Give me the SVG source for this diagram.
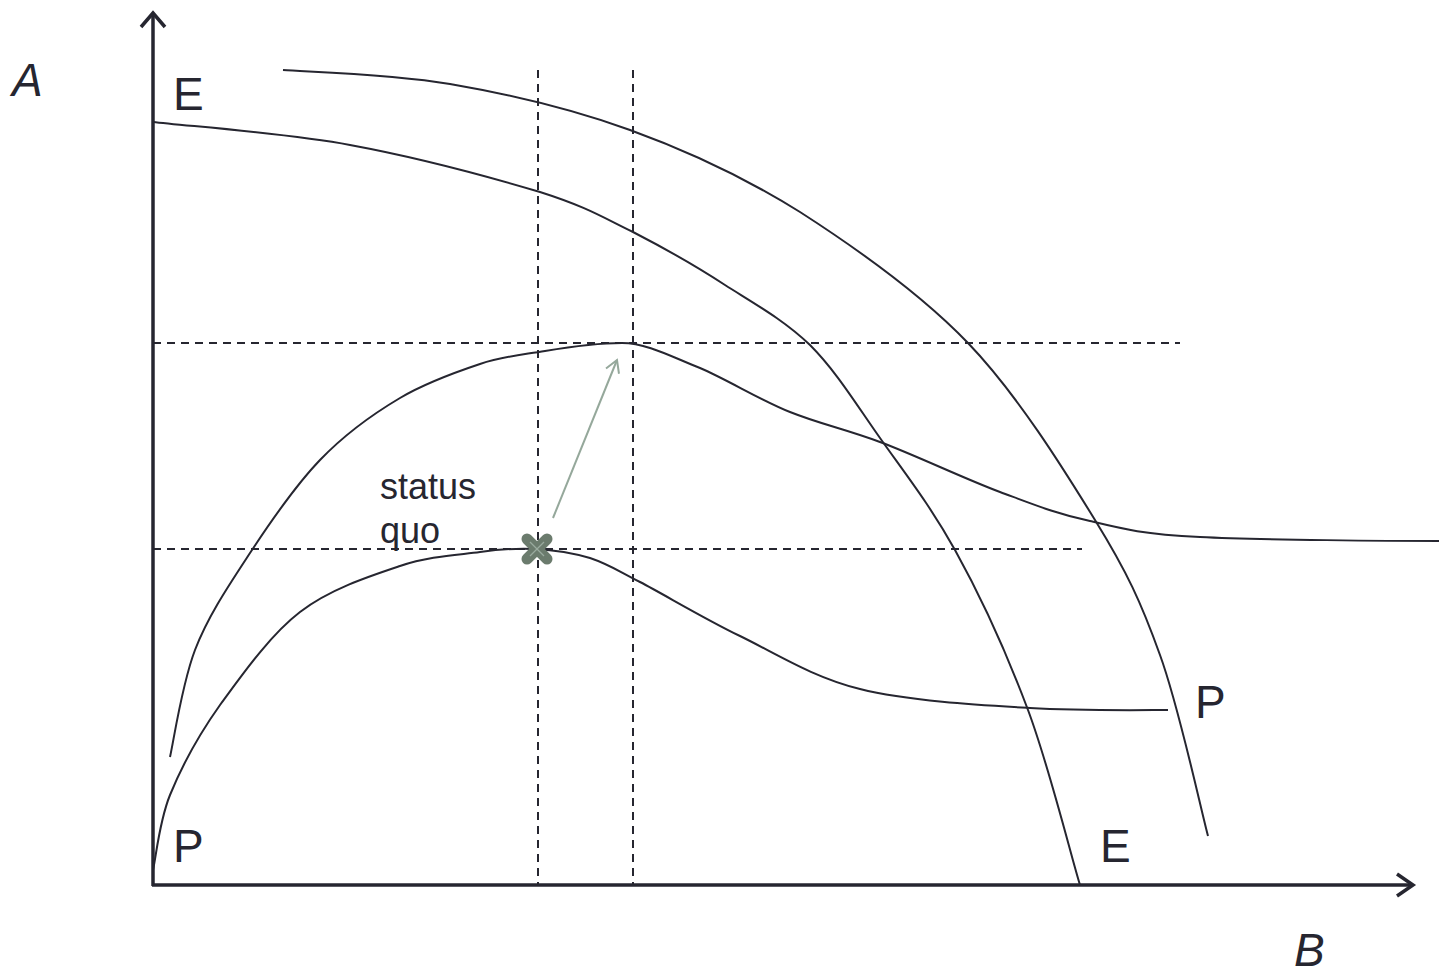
<svg xmlns="http://www.w3.org/2000/svg" width="1439" height="977" viewBox="0 0 1439 977">
<style>
.curve{fill:none;stroke:#262630;stroke-width:2}
.dash{fill:none;stroke:#262630;stroke-width:2;stroke-dasharray:8 6}
.axis{fill:none;stroke:#262630;stroke-width:3.5}
.lbl{font-family:"Liberation Sans",Arial,sans-serif;font-size:46px;fill:#262630}
.ital{font-style:italic}
.sq{font-family:"Liberation Sans",Arial,sans-serif;font-size:36px;fill:#262630}
</style>
<defs>
<marker id="ah" markerWidth="20" markerHeight="20" refX="14" refY="8" orient="auto" markerUnits="userSpaceOnUse">
<path d="M2,1 L14,8 L2,15" fill="none" stroke="#95a89b" stroke-width="2"/>
</marker>
</defs>
<rect width="1439" height="977" fill="#ffffff"/>
<g id="guides">
<line class="dash" x1="153" y1="343" x2="1180" y2="343"/>
<line class="dash" x1="153" y1="549" x2="1082" y2="549"/>
<line class="dash" x1="538" y1="70" x2="538" y2="885"/>
<line class="dash" x1="633" y1="70" x2="633" y2="885"/>
</g>
<g id="curve-E-outer">
<path class="curve" d="M283,70 C311,72 392,74 450,84 C508,94 572,109 630,130 C688,151 744,177 800,212 C856,248 919,292 968,343 C1017,394 1063,468 1095,520 C1127,572 1141,602 1160,655 C1179,707 1200,806 1208,836"/>
</g>
<g id="curve-E-inner">
<path class="curve" d="M153,122 C186,126 286,133 350,145 C415,157 493,178 540,192 C587,207 602,217 633,232 C664,248 696,266 725,285 C755,304 784,320 810,345 C836,371 856,404 880,438 C904,472 930,505 955,550 C980,595 1007,654 1028,710 C1049,766 1071,856 1080,885"/>
</g>
<g id="curve-P-upper">
<path class="curve" d="M170,757 C174,739 182,684 195,650 C208,616 229,585 250,553 C271,521 295,486 320,460 C345,434 373,414 400,398 C427,382 456,372 480,364 C504,356 521,355 545,351 C569,347 597,343 622,343 C647,343 672,357 700,368 C728,380 760,400 790,412 C820,424 845,429 880,442 C915,455 965,479 1000,492 C1035,505 1057,514 1090,521 C1123,529 1142,534 1200,537 C1258,540 1399,541 1439,541"/>
</g>
<g id="curve-P-lower">
<path class="curve" d="M153,870 C156,858 159,822 170,795 C181,768 198,736 220,705 C242,675 270,635 300,612 C330,589 370,576 400,566 C430,556 458,555 480,552 C502,549 517,548 535,549 C553,550 573,553 590,558 C608,564 615,569 640,582 C665,595 703,618 740,636 C777,654 812,677 860,689 C908,701 979,705 1030,708 C1081,711 1145,710 1168,710"/>
</g>
<g id="axes">
<line class="axis" x1="153" y1="886" x2="153" y2="14"/>
<path class="axis" d="M141,27 L153,13 L165,27"/>
<line class="axis" x1="152" y1="885" x2="1412" y2="885"/>
<path class="axis" d="M1397,874 L1413,885 L1397,896"/>
</g>
<g id="connectors">
<line x1="553" y1="518" x2="617" y2="360" stroke="#95a89b" stroke-width="2" marker-end="url(#ah)"/>
</g>
<g id="status-quo">
<g stroke="#6b7b6d" stroke-width="11" stroke-linecap="round">
<line x1="527" y1="539" x2="547" y2="559"/>
<line x1="547" y1="539" x2="527" y2="559"/>
</g>
<g stroke="#9aaa9e" stroke-width="1.2">
<line x1="530" y1="542" x2="544" y2="556"/>
<line x1="544" y1="542" x2="530" y2="556"/>
</g>
<text class="sq" x="380" y="499">status</text>
<text class="sq" x="380" y="543">quo</text>
</g>
<g id="labels">
<text class="lbl ital" x="12" y="96">A</text>
<text class="lbl ital" x="1294" y="966">B</text>
<text class="lbl" x="173" y="110">E</text>
<text class="lbl" x="1100" y="862">E</text>
<text class="lbl" x="173" y="862">P</text>
<text class="lbl" x="1195" y="718">P</text>
</g>
</svg>
